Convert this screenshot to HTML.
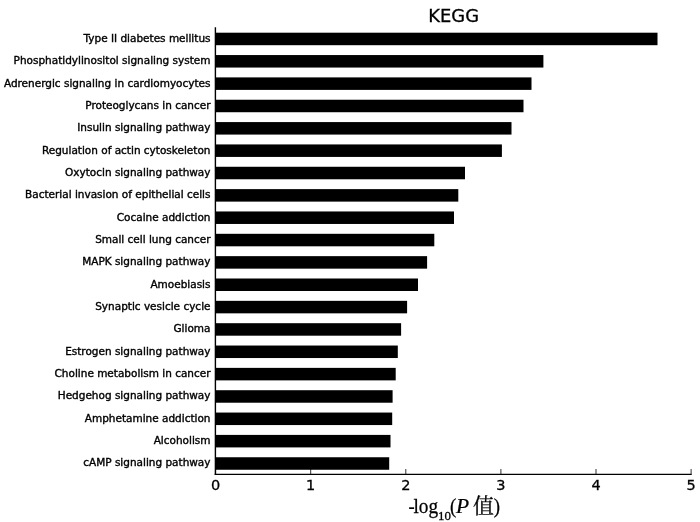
<!DOCTYPE html>
<html><head><meta charset="utf-8"><title>KEGG</title>
<style>
html,body{margin:0;padding:0;background:#fff;}
body{width:700px;height:522px;overflow:hidden;}
svg{display:block;}
.yl{font-family:"DejaVu Sans","Liberation Sans",sans-serif;font-size:10.5px;fill:#000;text-anchor:end;stroke:#000;stroke-width:0.38px;}
.xl{font-family:"DejaVu Sans","Liberation Sans",sans-serif;font-size:14.5px;fill:#000;text-anchor:middle;stroke:#000;stroke-width:0.3px;}
.tt{font-family:"DejaVu Sans","Liberation Sans",sans-serif;font-size:17.9px;fill:#000;text-anchor:middle;stroke:#000;stroke-width:0.3px;}
.ax{font-family:"Liberation Serif","Noto Serif CJK SC",serif;font-size:21px;fill:#000;stroke:#000;stroke-width:0.25px;}
</style></head><body>
<svg width="700" height="522" viewBox="0 0 700 522">
<rect width="700" height="522" fill="#fff"/>

<g fill="#000">
<rect x="215.6" y="32.70" width="441.9" height="12.5"/>
<rect x="215.6" y="55.05" width="327.8" height="12.5"/>
<rect x="215.6" y="77.39" width="315.9" height="12.5"/>
<rect x="215.6" y="99.73" width="307.9" height="12.5"/>
<rect x="215.6" y="122.08" width="295.9" height="12.5"/>
<rect x="215.6" y="144.43" width="286.3" height="12.5"/>
<rect x="215.6" y="166.77" width="249.4" height="12.5"/>
<rect x="215.6" y="189.12" width="242.7" height="12.5"/>
<rect x="215.6" y="211.46" width="238.4" height="12.5"/>
<rect x="215.6" y="233.81" width="218.7" height="12.5"/>
<rect x="215.6" y="256.15" width="211.5" height="12.5"/>
<rect x="215.6" y="278.50" width="202.4" height="12.5"/>
<rect x="215.6" y="300.84" width="191.5" height="12.5"/>
<rect x="215.6" y="323.19" width="185.5" height="12.5"/>
<rect x="215.6" y="345.53" width="182.2" height="12.5"/>
<rect x="215.6" y="367.87" width="180.1" height="12.5"/>
<rect x="215.6" y="390.22" width="177.0" height="12.5"/>
<rect x="215.6" y="412.56" width="176.6" height="12.5"/>
<rect x="215.6" y="434.91" width="174.9" height="12.5"/>
<rect x="215.6" y="457.25" width="173.6" height="12.5"/>
</g>
<g stroke="#000" stroke-width="1.2" fill="none">
<line stroke-width="1.4" x1="215.40" y1="27.2" x2="215.40" y2="474.9"/>
<line stroke-width="1.3" x1="214.7" y1="474.3" x2="691.7" y2="474.3"/>
<line stroke-width="0.8" x1="215.6" y1="474.3" x2="215.6" y2="469.0"/>
<line stroke-width="0.8" x1="310.7" y1="474.3" x2="310.7" y2="469.0"/>
<line stroke-width="0.8" x1="405.8" y1="474.3" x2="405.8" y2="469.0"/>
<line stroke-width="0.8" x1="500.9" y1="474.3" x2="500.9" y2="469.0"/>
<line stroke-width="0.8" x1="596.0" y1="474.3" x2="596.0" y2="469.0"/>
<line stroke-width="0.8" x1="691.1" y1="474.3" x2="691.1" y2="469.0"/>
</g>
<text class="yl" transform="translate(210.5,41.90) scale(1,0.955)">Type II diabetes mellitus</text>
<text class="yl" transform="translate(210.5,64.25) scale(1,0.955)">Phosphatidylinositol signaling system</text>
<text class="yl" transform="translate(210.5,86.59) scale(1,0.955)">Adrenergic signaling in cardiomyocytes</text>
<text class="yl" transform="translate(210.5,108.94) scale(1,0.955)">Proteoglycans in cancer</text>
<text class="yl" transform="translate(210.5,131.28) scale(1,0.955)">Insulin signaling pathway</text>
<text class="yl" transform="translate(210.5,153.62) scale(1,0.955)">Regulation of actin cytoskeleton</text>
<text class="yl" transform="translate(210.5,175.97) scale(1,0.955)">Oxytocin signaling pathway</text>
<text class="yl" transform="translate(210.5,198.31) scale(1,0.955)">Bacterial invasion of epithelial cells</text>
<text class="yl" transform="translate(210.5,220.66) scale(1,0.955)">Cocaine addiction</text>
<text class="yl" transform="translate(210.5,243.00) scale(1,0.955)">Small cell lung cancer</text>
<text class="yl" transform="translate(210.5,265.35) scale(1,0.955)">MAPK signaling pathway</text>
<text class="yl" transform="translate(210.5,287.69) scale(1,0.955)">Amoebiasis</text>
<text class="yl" transform="translate(210.5,310.04) scale(1,0.955)">Synaptic vesicle cycle</text>
<text class="yl" transform="translate(210.5,332.38) scale(1,0.955)">Glioma</text>
<text class="yl" transform="translate(210.5,354.73) scale(1,0.955)">Estrogen signaling pathway</text>
<text class="yl" transform="translate(210.5,377.07) scale(1,0.955)">Choline metabolism in cancer</text>
<text class="yl" transform="translate(210.5,399.42) scale(1,0.955)">Hedgehog signaling pathway</text>
<text class="yl" transform="translate(210.5,421.76) scale(1,0.955)">Amphetamine addiction</text>
<text class="yl" transform="translate(210.5,444.11) scale(1,0.955)">Alcoholism</text>
<text class="yl" transform="translate(210.5,466.45) scale(1,0.955)">cAMP signaling pathway</text>
<text class="xl" x="215.6" y="490.2">0</text>
<text class="xl" x="310.7" y="490.2">1</text>
<text class="xl" x="405.8" y="490.2">2</text>
<text class="xl" x="500.9" y="490.2">3</text>
<text class="xl" x="596.0" y="490.2">4</text>
<text class="xl" x="691.1" y="490.2">5</text>
<text class="tt" x="453.7" y="21.8">KEGG</text>
<g><text class="ax" transform="translate(408.40,513.20) scale(0.880,1.000)">-</text><text class="ax" transform="translate(413.40,513.20) scale(0.920,1.000)">log</text><text class="ax" transform="translate(438.00,520.20) scale(1.080,1.000)" style="font-size:12px">10</text><text class="ax" transform="translate(450.00,513.20) scale(0.900,1.000)">(</text><text class="ax" transform="translate(456.00,513.00) scale(1.020,0.950)" font-style="italic">P</text><text class="ax" transform="translate(473.00,513.00) scale(1.000,1.000)">值</text><text class="ax" transform="translate(493.80,513.20) scale(0.900,1.000)">)</text></g>
</svg></body></html>
